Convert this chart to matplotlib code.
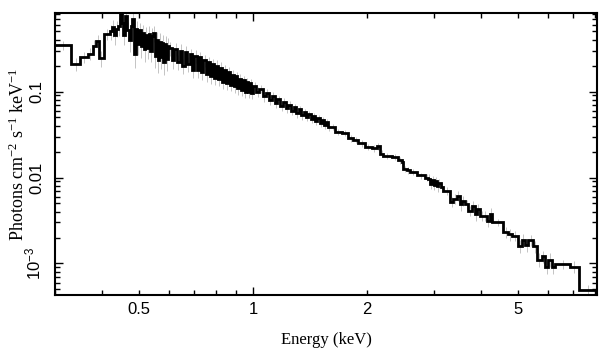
import numpy as np
import matplotlib
matplotlib.use("Agg")
import matplotlib.pyplot as plt
from matplotlib.ticker import LogLocator, FuncFormatter, NullFormatter

plt.rcParams['font.family'] = ['Liberation Sans', 'DejaVu Sans']
plt.rcParams['mathtext.fontset'] = 'custom'
plt.rcParams['mathtext.rm'] = 'Liberation Serif'
plt.rcParams['mathtext.it'] = 'Liberation Serif:italic'
plt.rcParams['mathtext.sf'] = 'Liberation Sans'

# ---- data: bin edges (keV) ----
edges_soft = [0.300, 0.330, 0.350, 0.366, 0.377, 0.385, 0.393, 0.403]
edges_a = [0.420, 0.425, 0.430, 0.435, 0.440, 0.445, 0.450, 0.455, 0.460, 0.465,
           0.470, 0.475, 0.480, 0.485, 0.490, 0.495, 0.500, 0.505, 0.510, 0.515,
           0.520, 0.525, 0.530, 0.535, 0.540, 0.545, 0.550, 0.555, 0.560, 0.565,
           0.570, 0.575, 0.580, 0.585, 0.590, 0.595]
edges_b = [0.60, 0.61, 0.62, 0.63, 0.64, 0.65, 0.66, 0.67, 0.68, 0.69,
           0.70, 0.71, 0.72, 0.73, 0.74, 0.75, 0.76, 0.77, 0.78, 0.79,
           0.80, 0.81, 0.82, 0.83, 0.84, 0.85, 0.86, 0.87, 0.88, 0.89,
           0.90, 0.91, 0.92, 0.93, 0.94, 0.95, 0.96, 0.97, 0.98, 0.99]
edges_c = [1.00, 1.02, 1.04, 1.06, 1.08, 1.10, 1.12, 1.14, 1.16, 1.18,
           1.20, 1.22, 1.24, 1.26, 1.28, 1.30, 1.32, 1.34, 1.36, 1.38,
           1.40, 1.42, 1.44, 1.46, 1.48, 1.50, 1.52, 1.54, 1.56, 1.58]
edges_d = [1.600, 1.644, 1.713, 1.784, 1.839, 1.896, 1.975, 2.056, 2.120, 2.164,
           2.208, 2.322, 2.419, 2.468, 2.494, 2.545, 2.598, 2.704, 2.846, 2.904,
           2.940, 2.970, 3.000, 3.030, 3.060, 3.086, 3.130]
edges_e = [3.181, 3.314, 3.382, 3.450, 3.523, 3.557, 3.631, 3.706, 3.781, 3.859,
           3.897, 3.978, 4.060, 4.143, 4.229, 4.270, 4.586, 4.727, 4.823, 5.023,
           5.126, 5.233, 5.339, 5.504, 5.616, 5.790, 5.910, 6.031, 6.150, 6.282,
           6.884, 7.240]
edge_last = [8.1]

# ---- data: flux (photons cm^-2 s^-1 keV^-1) ----
flux_soft = [0.35, 0.21, 0.25, 0.275, 0.34, 0.39, 0.245, 0.47]
flux_a = [0.50, 0.56, 0.46, 0.54, 0.58, 0.80, 0.62, 0.45, 0.76, 0.52,
          0.40, 0.58, 0.70, 0.27, 0.54, 0.36, 0.52, 0.34, 0.48, 0.31,
          0.46, 0.32, 0.47, 0.30, 0.44, 0.48, 0.26, 0.40, 0.23, 0.38,
          0.25, 0.37, 0.22, 0.36, 0.24, 0.34]
flux_b = [0.32, 0.23, 0.31, 0.22, 0.30, 0.20, 0.29, 0.21, 0.27, 0.18,
          0.26, 0.18, 0.25, 0.17, 0.23, 0.16, 0.22, 0.15, 0.21, 0.145,
          0.20, 0.14, 0.19, 0.13, 0.18, 0.125, 0.17, 0.12, 0.155, 0.115,
          0.15, 0.11, 0.14, 0.105, 0.135, 0.10, 0.13, 0.098, 0.125, 0.095]
flux_c = [0.116, 0.099, 0.108, 0.088, 0.096, 0.080, 0.089, 0.074, 0.081, 0.068,
          0.076, 0.064, 0.070, 0.060, 0.066, 0.056, 0.062, 0.053, 0.058, 0.050,
          0.055, 0.048, 0.052, 0.045, 0.049, 0.043, 0.047, 0.041, 0.044, 0.039]
flux_d = [0.039, 0.0341, 0.0327, 0.0288, 0.0272, 0.0249, 0.0227, 0.0218, 0.0232, 0.0190,
          0.0177, 0.0173, 0.0158, 0.0151, 0.01265, 0.0121, 0.01155, 0.01056, 0.0100, 0.0097,
          0.0084, 0.0094, 0.0082, 0.0090, 0.0079, 0.0086, 0.0077]
flux_e = [0.0070, 0.0052, 0.0057, 0.0061, 0.0049, 0.0054, 0.0049, 0.0041, 0.0047, 0.0038,
          0.0043, 0.0036, 0.0036, 0.0031, 0.0038, 0.0030, 0.0023, 0.0022, 0.0021, 0.0016,
          0.0019, 0.00163, 0.00187, 0.00158, 0.00111, 0.00121, 0.00092, 0.00111, 0.00092, 0.00099,
          0.00092, 0.00049]

# ---- data: relative 1-sigma errors ----
err_soft = [0.12, 0.18, 0.15, 0.16, 0.18, 0.17, 0.22, 0.15]
err_a = [0.20, 0.22, 0.25, 0.21, 0.24, 0.20, 0.26, 0.23, 0.22, 0.25,
         0.27, 0.22, 0.24, 0.30, 0.23, 0.26, 0.22, 0.27, 0.24, 0.28,
         0.23, 0.26, 0.22, 0.27, 0.24, 0.21, 0.28, 0.24, 0.29, 0.25,
         0.27, 0.24, 0.29, 0.24, 0.27, 0.25]
err_b = [0.18, 0.21, 0.17, 0.20, 0.18, 0.21, 0.17, 0.20, 0.17, 0.21,
         0.17, 0.20, 0.16, 0.19, 0.16, 0.19, 0.16, 0.19, 0.15, 0.18,
         0.15, 0.17, 0.15, 0.17, 0.14, 0.17, 0.14, 0.16, 0.14, 0.16,
         0.13, 0.16, 0.13, 0.15, 0.13, 0.15, 0.12, 0.15, 0.12, 0.14]
err_c = [0.12, 0.13, 0.11, 0.13, 0.11, 0.12, 0.11, 0.12, 0.10, 0.12,
         0.10, 0.11, 0.10, 0.11, 0.10, 0.11, 0.09, 0.11, 0.09, 0.10,
         0.09, 0.10, 0.09, 0.10, 0.09, 0.10, 0.09, 0.10, 0.09, 0.10]
err_d = [0.08, 0.08, 0.08, 0.09, 0.08, 0.09, 0.08, 0.09, 0.09, 0.09,
         0.08, 0.08, 0.09, 0.10, 0.09, 0.09, 0.08, 0.08, 0.09, 0.12,
         0.13, 0.12, 0.13, 0.12, 0.13, 0.12, 0.13]
err_e = [0.10, 0.13, 0.13, 0.13, 0.16, 0.13, 0.13, 0.14, 0.13, 0.17,
         0.14, 0.14, 0.14, 0.15, 0.17, 0.10, 0.15, 0.16, 0.13, 0.17,
         0.16, 0.16, 0.15, 0.16, 0.18, 0.17, 0.19, 0.18, 0.19, 0.12,
         0.15, 0.14]

x_tick_vals = [0.5, 1, 2, 5]
x_tick_labels = ['0.5', '1', '2', '5']
y_tick_vals = [0.1, 0.01, 0.001]
y_tick_labels = ['0.1', '0.01', r'$\mathsf{10^{-3}}$']

edges = np.array(edges_soft + edges_a + edges_b + edges_c + edges_d + edges_e + edge_last)
flux = np.array(flux_soft + flux_a + flux_b + flux_c + flux_d + flux_e)
err = np.array(err_soft + err_a + err_b + err_c + err_d + err_e) * flux
centers = np.sqrt(edges[:-1] * edges[1:])

fig = plt.figure(figsize=(6.09, 3.57), dpi=100)
ax = fig.add_axes([55 / 609, 1 - 295 / 357, (597 - 55) / 609, (295 - 13) / 357])
ax.set_xscale('log')
ax.set_yscale('log')

ax.errorbar(centers, flux, yerr=err, fmt='none', ecolor='#c4c4c4', elinewidth=0.7, zorder=1)
ax.stairs(flux, edges, color='black', lw=2.0, baseline=None, zorder=2)

ax.set_xlim(0.3, 8.1)
ax.set_ylim(4.3e-4, 0.82)

xlab = dict(zip(x_tick_vals, x_tick_labels))
def xfmt(v, pos):
    for k, s in xlab.items():
        if abs(v - k) < 1e-6 * k:
            return s
    return ''
ax.xaxis.set_major_locator(LogLocator(base=10))
ax.xaxis.set_minor_locator(LogLocator(base=10, subs=np.arange(2, 10)))
ax.xaxis.set_major_formatter(FuncFormatter(xfmt))
ax.xaxis.set_minor_formatter(FuncFormatter(xfmt))

ylab = dict(zip(y_tick_vals, y_tick_labels))
def yfmt(v, pos):
    for k, s in ylab.items():
        if abs(v - k) < 1e-6 * k:
            return s
    return ''
ax.yaxis.set_major_locator(LogLocator(base=10))
ax.yaxis.set_minor_locator(LogLocator(base=10, subs=np.arange(2, 10)))
ax.yaxis.set_major_formatter(FuncFormatter(yfmt))
ax.yaxis.set_minor_formatter(NullFormatter())

ax.tick_params(which='both', direction='in', top=True, right=True, labelsize=12, color='black')
ax.tick_params(which='major', length=6, width=1.0)
ax.tick_params(which='minor', length=3.5, width=1.0)
ax.tick_params(axis='x', which='both', pad=5)
ax.tick_params(axis='y', which='both', pad=8)
for lab in ax.get_yticklabels():
    lab.set_rotation(90)
    lab.set_va('center')

for sp in ax.spines.values():
    sp.set_linewidth(1.5)

ax.set_xlabel('Energy (keV)', fontfamily='Liberation Serif', fontsize=12, labelpad=11)
ax.set_ylabel(r'Photons cm$^{-2}$ s$^{-1}$ keV$^{-1}$', fontfamily='Liberation Serif', fontsize=13, labelpad=-3)

fig.savefig('out.png', dpi=100)
